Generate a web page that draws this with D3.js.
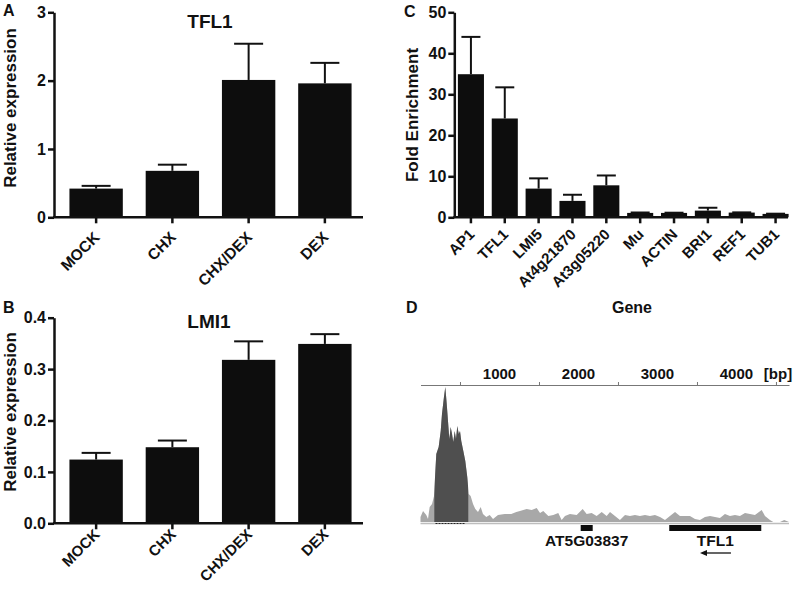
<!DOCTYPE html>
<html>
<head>
<meta charset="utf-8">
<script src="https://cdn.jsdelivr.net/npm/d3@7"></script>
<style>
body { margin: 0; background: #fff; }
svg text { font-family: "Liberation Sans", Arial, sans-serif; font-weight: bold; fill: #111; }
</style>
</head>
<body>
<svg id="fig" width="793" height="589"></svg>
<script>

// panels A and B: qPCR
var treatments = ["MOCK", "CHX", "CHX/DEX", "DEX"];
var tfl1Mean = [0.42, 0.68, 2.01, 1.96];
var tfl1Err = [0.04, 0.09, 0.53, 0.30];
var lmi1Mean = [0.124, 0.148, 0.318, 0.349];
var lmi1Err = [0.013, 0.013, 0.036, 0.019];

// panel C: ChIP
var chipGenes = ["AP1", "TFL1", "LMI5", "At4g21870", "At3g05220", "Mu", "ACTIN", "BRI1", "REF1", "TUB1"];
var chipMean = [34.9, 24.1, 7.0, 4.0, 7.8, 1.07, 1.07, 1.63, 1.15, 0.83];
var chipErr = [9.1, 7.6, 2.5, 1.5, 2.4, 0.1, 0.05, 0.7, 0.05, 0.05];

// panel D: read coverage along the locus
var covBp = [0, 32, 73, 95, 116, 146, 171, 200, 230, 256, 272, 297, 314, 332, 348, 365, 382, 399, 415, 433,
  449, 466, 484, 500, 516, 542, 567, 592, 610, 635, 665, 694, 728, 762, 791, 833, 876, 918, 981, 1066,
  1149, 1213, 1259, 1344, 1408, 1471, 1513, 1554, 1618, 1681, 1744, 1787, 1829, 1892, 1977, 2053, 2104, 2167, 2230, 2294,
  2357, 2399, 2462, 2525, 2589, 2652, 2715, 2778, 2842, 2905, 2968, 3032, 3095, 3158, 3222, 3285, 3348, 3411, 3475, 3538,
  3601, 3665, 3728, 3791, 3854, 3918, 3981, 4044, 4108, 4171, 4234, 4319, 4361, 4424, 4466, 4551, 4605, 4635, 4665];
var covDepth = [5, 11, 7, 3, 15, 18, 26, 68, 75, 91, 108, 125, 135, 118, 101, 83, 95, 88, 80, 91,
  83, 96, 88, 91, 81, 71, 61, 45, 28, 26, 18, 13, 10, 15, 8, 5, 7, 3, 7, 8,
  8, 10, 11, 13, 12, 14, 9, 11, 6, 7, 9, 2, 6, 8, 7, 13, 8, 9, 6, 10,
  6, 10, 6, 2, 7, 6, 7, 6, 7, 6, 7, 5, 2, 6, 10, 6, 6, 6, 3, 2,
  5, 6, 5, 4, 8, 6, 7, 6, 9, 8, 7, 12, 6, 2, 0, 0, 2, 1, 0];
var peakRegion = [175, 605];
var geneNames = ["AT5G03837", "TFL1"];
var geneStart = [2028, 3149];
var geneEnd = [2180, 4314];
var scaleLabels = [1000, 2000, 3000, 4000];
var scaleTicks = [500, 1500, 2500, 3500, 4500];

var svg = d3.select('#fig');
svg.append('rect').attr('width', 793).attr('height', 589).attr('fill', '#fff');

function barPanel(o) {
    var g = svg.append('g');
    var x = d3.scaleBand()
        .domain(o.cats)
        .range([o.x0, o.x1])
        .paddingInner(o.pad)
        .paddingOuter(o.pad / 2);
    var y = d3.scaleLinear()
        .domain([0, o.ymax])
        .range([o.yBase, o.yTop]);
    var bw = x.bandwidth();

    g.selectAll('.bar')
        .data(o.cats)
        .enter().append('rect')
        .attr('x', function (d) { return x(d); })
        .attr('width', bw)
        .attr('y', function (d, i) { return y(o.mean[i]); })
        .attr('height', function (d, i) { return y(0) - y(o.mean[i]); })
        .attr('fill', '#0d0d0d');

    var eb = g.selectAll('.err')
        .data(o.cats)
        .enter().append('g')
        .attr('stroke', '#111')
        .attr('stroke-width', 2);
    eb.append('line')
        .attr('x1', function (d) { return x(d) + bw / 2; })
        .attr('x2', function (d) { return x(d) + bw / 2; })
        .attr('y1', function (d, i) { return y(o.mean[i]); })
        .attr('y2', function (d, i) { return y(o.mean[i] + o.err[i]); });
    eb.append('line')
        .attr('x1', function (d) { return x(d) + bw / 2 - o.cap / 2; })
        .attr('x2', function (d) { return x(d) + bw / 2 + o.cap / 2; })
        .attr('y1', function (d, i) { return y(o.mean[i] + o.err[i]); })
        .attr('y2', function (d, i) { return y(o.mean[i] + o.err[i]); });

    var ya = g.append('g')
        .attr('transform', 'translate(' + o.ax + ',0)')
        .call(d3.axisLeft(y).tickValues(o.ticks).tickFormat(o.fmt).tickSize(6).tickSizeOuter(0).tickPadding(2));
    var xa = g.append('g')
        .attr('transform', 'translate(0,' + o.yBase + ')')
        .call(d3.axisBottom(x).tickSize(6).tickSizeOuter(0).tickFormat(''));
    xa.select('.domain').remove();
    g.append('line')
        .attr('x1', o.ax - 1).attr('x2', o.axEnd)
        .attr('y1', o.yBase).attr('y2', o.yBase)
        .attr('stroke', '#111').attr('stroke-width', 2.5);
    g.selectAll('.domain, .tick line').attr('stroke', '#111').attr('stroke-width', 2.5);
    ya.selectAll('.tick text').style('font-size', '16px').style('font-family', null).attr('fill', '#111');

    g.selectAll('.xl')
        .data(o.cats)
        .enter().append('text')
        .attr('transform', function (d) {
            return 'translate(' + (x(d) + bw / 2 + 4.5) + ',' + (o.yBase + o.labelDy) + ') rotate(-45)';
        })
        .attr('text-anchor', 'end')
        .style('font-size', o.labelSize + 'px')
        .text(function (d) { return d; });

    g.append('text')
        .attr('transform', 'translate(' + o.ylx + ',' + o.yly + ') rotate(-90)')
        .attr('text-anchor', 'middle')
        .style('font-size', '17px')
        .text(o.ylabel);

    if (o.title) {
        g.append('text')
            .attr('x', o.titleX).attr('y', o.titleY)
            .attr('text-anchor', 'middle')
            .style('font-size', '19px')
            .text(o.title);
    }
}

barPanel({
    cats: treatments, mean: tfl1Mean, err: tfl1Err,
    x0: 58, x1: 363, pad: 0.3, ax: 54, axEnd: 363,
    yBase: 217.3, yTop: 12.3, ymax: 3, ticks: [0, 1, 2, 3], fmt: d3.format('d'),
    cap: 29, labelSize: 15.5, labelDy: 21,
    ylabel: 'Relative expression', ylx: 16, yly: 108,
    title: 'TFL1', titleX: 210, titleY: 28
});

barPanel({
    cats: treatments, mean: lmi1Mean, err: lmi1Err,
    x0: 58, x1: 363, pad: 0.3, ax: 54, axEnd: 363,
    yBase: 523.3, yTop: 317.7, ymax: 0.4, ticks: [0, 0.1, 0.2, 0.3, 0.4], fmt: d3.format('.1f'),
    cap: 29, labelSize: 15, labelDy: 12,
    ylabel: 'Relative expression', ylx: 16, yly: 412,
    title: 'LMI1', titleX: 209, titleY: 328
});

barPanel({
    cats: chipGenes, mean: chipMean, err: chipErr,
    x0: 454, x1: 792.5, pad: 0.23, ax: 454.3, axEnd: 788,
    yBase: 217.3, yTop: 12.3, ymax: 50, ticks: [0, 10, 20, 30, 40, 50], fmt: d3.format('d'),
    cap: 19, labelSize: 15, labelDy: 18,
    ylabel: 'Fold Enrichment', ylx: 418, yly: 115
});

svg.append('text').attr('x', 632).attr('y', 313).attr('text-anchor', 'middle')
    .style('font-size', '16px').text('Gene');

// panel letters
var letters = [['A', 3, 16], ['B', 3, 313], ['C', 404, 17], ['D', 406, 313]];
svg.selectAll('.letter')
    .data(letters)
    .enter().append('text')
    .attr('x', function (d) { return d[1]; })
    .attr('y', function (d) { return d[2]; })
    .style('font-size', '16px')
    .text(function (d) { return d[0]; });

// panel D
var bx = d3.scaleLinear().domain([0, 4665]).range([420.5, 789]);
var by = d3.scaleLinear().domain([0, 135]).range([522, 387]);
var cov = covBp.map(function (b, i) { return [b, covDepth[i]]; });
var area = d3.area()
    .x(function (d) { return bx(d[0]); })
    .y0(by(0))
    .y1(function (d) { return by(d[1]); });

var gd = svg.append('g');
gd.append('clipPath').attr('id', 'peakclip')
    .append('rect')
    .attr('x', bx(peakRegion[0])).attr('width', bx(peakRegion[1]) - bx(peakRegion[0]))
    .attr('y', 370).attr('height', 160);
gd.append('path').datum(cov).attr('d', area).attr('fill', '#a8a8a8');
gd.append('path').datum(cov).attr('d', area).attr('fill', '#4f4f4f').attr('clip-path', 'url(#peakclip)');

gd.append('line')
    .attr('x1', bx(0)).attr('x2', bx(4665))
    .attr('y1', 523.5).attr('y2', 523.5)
    .attr('stroke', '#bdbdbd').attr('stroke-width', 1.5);
gd.append('line')
    .attr('x1', bx(190)).attr('x2', bx(570))
    .attr('y1', 523.5).attr('y2', 523.5)
    .attr('stroke', '#222').attr('stroke-width', 1.2)
    .attr('stroke-dasharray', '2,1');

var sa = gd.append('g')
    .attr('transform', 'translate(0,385)')
    .call(d3.axisTop(bx).tickValues(scaleTicks).tickFormat('').tickSize(3).tickSizeOuter(0));
sa.selectAll('.domain, .tick line').attr('stroke', '#777').attr('stroke-width', 1);

gd.selectAll('.sl')
    .data(scaleLabels)
    .enter().append('text')
    .attr('x', function (d) { return bx(d); })
    .attr('y', 379)
    .attr('text-anchor', 'middle')
    .style('font-size', '15px')
    .text(function (d) { return d; });
gd.append('text').attr('x', 778).attr('y', 379).attr('text-anchor', 'middle')
    .style('font-size', '15px').text('[bp]');

gd.selectAll('.gene')
    .data(geneNames)
    .enter().append('rect')
    .attr('x', function (d, i) { return bx(geneStart[i]); })
    .attr('width', function (d, i) { return bx(geneEnd[i]) - bx(geneStart[i]); })
    .attr('y', 525).attr('height', 6)
    .attr('fill', '#0d0d0d');
gd.selectAll('.gl')
    .data(geneNames)
    .enter().append('text')
    .attr('x', function (d, i) { return bx((geneStart[i] + geneEnd[i]) / 2); })
    .attr('y', 546)
    .attr('text-anchor', 'middle')
    .style('font-size', '15.5px')
    .text(function (d) { return d; });

// TFL1 is on the reverse strand
var ay = 553, ax1 = bx(3930), ax2 = bx(3538);
gd.append('line').attr('x1', ax1).attr('x2', ax2 + 4).attr('y1', ay).attr('y2', ay)
    .attr('stroke', '#111').attr('stroke-width', 1.3);
gd.append('path')
    .attr('d', 'M' + ax2 + ',' + ay + 'L' + (ax2 + 7) + ',' + (ay - 3) + 'L' + (ax2 + 7) + ',' + (ay + 3) + 'Z')
    .attr('fill', '#111');

</script>
</body>
</html>
